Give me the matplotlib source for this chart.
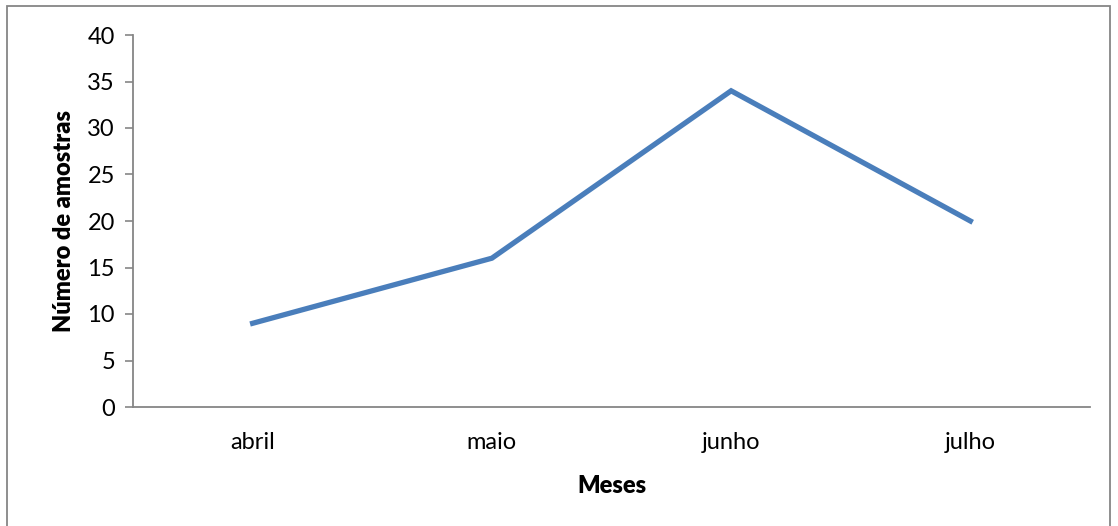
import matplotlib
matplotlib.use('Agg')
import matplotlib.pyplot as plt
from matplotlib.patches import Rectangle

meses = ['abril', 'maio', 'junho', 'julho']
amostras = [9, 16, 34, 20]
yticks = [0, 5, 10, 15, 20, 25, 30, 35, 40]

plt.rcParams['font.family'] = ['Lato', 'DejaVu Sans']

W, H = 1118, 526
fig = plt.figure(figsize=(W / 100, H / 100), dpi=100)
ax = fig.add_axes([133 / W, 1 - 407 / H, (1090 - 133) / W, (407 - 35) / H])

x = range(len(meses))
ax.plot(x, amostras, color='#4A7EBB', lw=3.8, solid_joinstyle='miter')

ax.set_xlim(-0.5, 3.5)
ax.set_ylim(0, 40)
ax.set_yticks(yticks)
ax.set_xticks(list(x))
ax.set_xticklabels(meses)
ax.tick_params(axis='x', length=0, pad=18, labelsize=17)
ax.tick_params(axis='y', length=6, width=1.2, color='#868686', pad=7, labelsize=17)

for s in ['top', 'right']:
    ax.spines[s].set_visible(False)
for s in ['left', 'bottom']:
    ax.spines[s].set_color('#868686')
    ax.spines[s].set_linewidth(1.3)

ax.set_xlabel('Meses', fontsize=17, fontweight='heavy', labelpad=16)
ax.set_ylabel('Número de amostras', fontsize=17, fontweight='heavy', labelpad=9)

# outer chart frame
fig.patches.append(Rectangle((7 / W, -0.05), (1110 - 7) / W, 1 - 6 / H + 0.05,
                             transform=fig.transFigure, fill=False,
                             edgecolor='#868686', lw=1.3, clip_on=False))

fig.savefig('out.png', dpi=100)
